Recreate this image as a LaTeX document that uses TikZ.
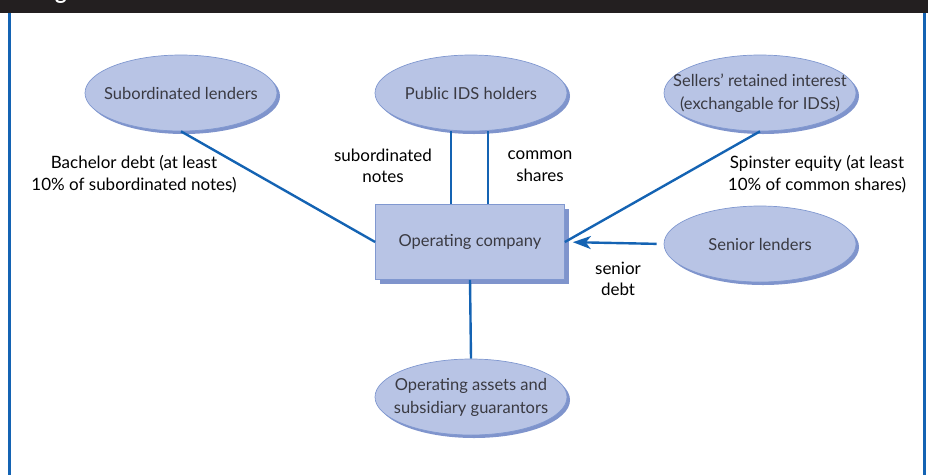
\documentclass[tikz,border=0pt]{standalone}
\usepackage{fontspec}
\setmainfont{Lato}
\usetikzlibrary{shapes.geometric,shadows,arrows.meta}
\definecolor{linkblue}{HTML}{1463B3}
\definecolor{boxfill}{HTML}{B8C4E5}
\definecolor{boxline}{HTML}{8098D0}
\definecolor{boxshade}{HTML}{7F94CC}
\definecolor{textgray}{HTML}{3A3A42}
\definecolor{barblack}{HTML}{231F20}

\begin{document}
\begin{tikzpicture}[x=1pt,y=-1pt,
  party/.style={ellipse,draw=boxline,line width=0.7pt,fill=boxfill,
    minimum width=192pt,minimum height=76pt,inner xsep=-40pt,inner ysep=-12pt,align=center,
    text=textgray,font=\fontsize{16.5}{23}\selectfont,
    drop shadow={shadow xshift=3pt,shadow yshift=-3pt,fill=boxshade,opacity=1}},
  firm/.style={rectangle,draw=boxline,line width=0.7pt,fill=boxfill,
    minimum width=189pt,minimum height=75pt,inner sep=0pt,
    text=textgray,font=\fontsize{16.5}{23}\selectfont,
    drop shadow={shadow xshift=4pt,shadow yshift=-4pt,fill=boxshade,opacity=1}},
  link/.style={draw=linkblue,line width=2.4pt},
  tag/.style={align=center,text=black,font=\fontsize{17}{21.5}\selectfont}]
  \useasboundingbox (0,0) rectangle (928,475);
% title bar and frame
  \fill[barblack] (0,0) rectangle (928,13);
  \node[white,anchor=base,inner sep=0pt,font=\bfseries\fontsize{22}{22}\selectfont] (figtag) at (61,-0.5) {g};
  \draw[linkblue,line width=3pt] (9,13) -- (9,475);
  \draw[linkblue,line width=3pt] (924.5,13) -- (924.5,475);
% parties
  \node[party] (sublend) at (181,93) {Subordinated lenders};
  \node[party] (public) at (471,93) {Public IDS holders};
  \node[party] (sellers) at (760,93) {Sellers' retained interest\\(exchangable for IDSs)};
  \node[party] (senior) at (760,244) {Senior lenders};
  \node[party] (assets) at (471,397) {Operating assets and\\subsidiary guarantors};
  \node[firm] (opco) at (470,242) {Operating company};
% claims on the operating company
  \draw[link] (sublend.south) -- (opco.west);
  \draw[link] ([xshift=-19pt]opco.north) -- ([xshift=-19pt]opco.north |- public.south);
  \draw[link] ([xshift=18pt]opco.north) -- ([xshift=18pt]opco.north |- public.south);
  \draw[link] (sellers.south) -- (opco.east);
  \draw[link,-{Stealth[length=18pt,width=13pt,inset=5pt]},shorten <=7pt,shorten >=8pt] (senior.west) -- (opco.east);
  \draw[link] (opco.south) -- (assets.north);
% labels
  \node[tag] (bachelor) at (134,174) {Bachelor debt (at least\\10\% of subordinated notes)};
  \node[tag] (subnotes) at (383,166) {subordinated\\notes};
  \node[tag] (common) at (540,166) {common\\shares};
  \node[tag] (spinster) at (817,174) {Spinster equity (at least\\10\% of common shares)};
  \node[tag] (srdebt) at (618,279) {senior\\debt};
\end{tikzpicture}
\end{document}
